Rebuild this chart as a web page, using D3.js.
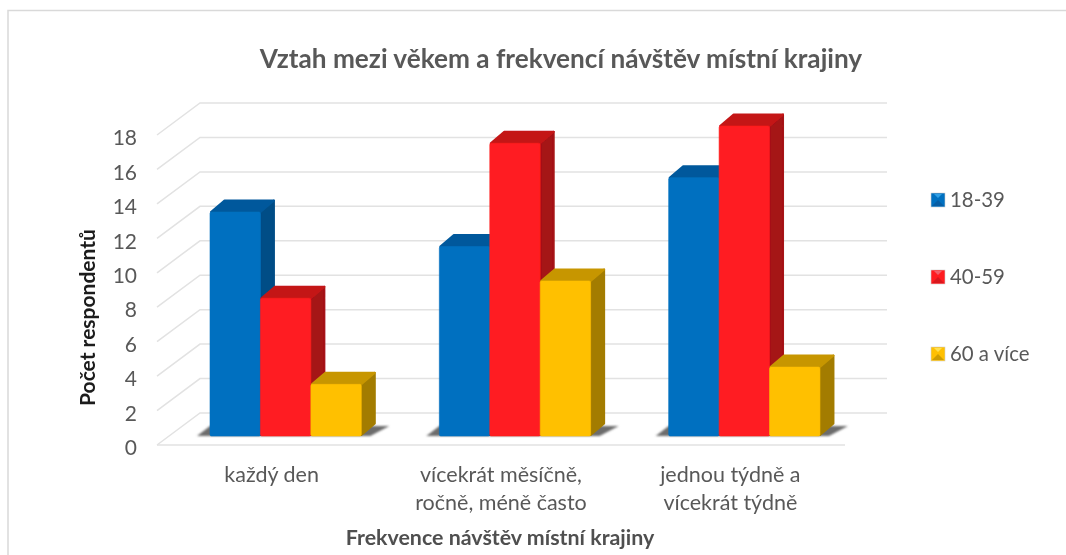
<!DOCTYPE html>
<html>
  <head>
    <meta charset="UTF-8">
    <title>Vztah mezi věkem a frekvencí návštěv místní krajiny</title>
    <style>
      html, body { margin: 0; padding: 0; background: #fff; }
      svg { display: block; }
      text { font-family: Lato, "Open Sans", sans-serif; fill: #595959; }
    </style>
  </head>
  <body>
    <svg></svg>

    <script src="https://d3js.org/d3.v7.min.js"></script>
    <script>

var categories = [["každý den"], ["vícekrát měsíčně,", "ročně, méně často"], ["jednou týdně a", "vícekrát týdně"]];
var seriesNames = ["18-39", "40-59", "60 a více"];
var values1839 = [13, 11, 15];
var values4059 = [8, 17, 18];
var values60 = [3, 9, 4];
var yTicks = [0, 2, 4, 6, 8, 10, 12, 14, 16, 18];

var colors = [
  {front: "#0070c0", top: "#00599c", side: "#004d86", light: "#2f9fe6", dark: "#0d4f8c"},
  {front: "#ff1c20", top: "#c41418", side: "#a51214", light: "#f0606a", dark: "#b8141c"},
  {front: "#ffc000", top: "#c79600", side: "#a37c00", light: "#ffe050", dark: "#a88000"}
];

var config = {
  width: 1066,
  height: 555,
  left: 157,
  right: 845,
  backDx: 43,
  backDy: -32,
  depthX: 14.5,
  depthY: -12.5
};

var svg = d3.select("svg")
  .attr("width", config.width)
  .attr("height", config.height);

var defs = svg.append("defs");
defs.append("filter").attr("id", "soft")
  .append("feGaussianBlur").attr("stdDeviation", 0.45);
defs.append("filter").attr("id", "textsoft")
  .append("feGaussianBlur").attr("stdDeviation", 0.25);
defs.append("filter").attr("id", "shadow")
  .attr("x", "-10%").attr("y", "-50%").attr("width", "120%").attr("height", "200%")
  .append("feGaussianBlur").attr("stdDeviation", 1.2);

// outer frame of the chart, open on the right
svg.append("path")
  .attr("d", "M8,555V10.5H1066")
  .attr("fill", "none")
  .attr("stroke", "#d9d9d9")
  .attr("stroke-width", 1.5);

// scales: front plane of the floor for the axis, bar plane slightly behind it
var yAxisScale = d3.scaleLinear().domain([0, 18]).range([445, 135]);
var yBar = d3.scaleLinear().domain([0, 18]).range([436, 126]);
var xGroup = d3.scaleBand().domain(d3.range(categories.length)).range([config.left, config.right]);
var xBar = d3.scaleBand().domain(d3.range(seriesNames.length)).range([53, 204.3]);

// gridlines on the left wall and the back wall
var grid = svg.append("g")
  .attr("fill", "none")
  .attr("stroke", "#e2e2e2")
  .attr("stroke-width", 1.5)
  .attr("filter", "url(#soft)");

grid.selectAll("path")
  .data(yTicks)
  .enter().append("path")
    .attr("d", function(d){
      var y = yAxisScale(d);
      return "M" + config.left + "," + y +
        "L" + (config.left + config.backDx) + "," + (y + config.backDy) +
        "H887";
    });

// front edge of the floor
grid.append("path")
  .attr("d", "M" + config.left + "," + yAxisScale(0) + "H" + config.right);

// bars
var seriesValues = [values1839, values4059, values60];

var groups = svg.selectAll(".group")
  .data(categories)
  .enter().append("g")
    .attr("class", "group")
    .attr("transform", function(d, i){ return "translate(" + xGroup(i) + ",0)"; });

// floor shadow under each group
groups.append("path")
  .attr("d", function(){
    var x0 = xBar(0) - 13, x1 = xBar(2) + xBar.bandwidth();
    var y0 = yBar(0);
    return "M" + x0 + "," + y0 + "L" + (x0 + 13) + "," + (y0 - 10) +
      "H" + (x1 + 28) + "L" + (x1 + 9) + "," + y0 + "Z";
  })
  .attr("fill", "#6c6c6c")
  .attr("filter", "url(#shadow)");

groups.each(function(d, gi){
  var g = d3.select(this);
  seriesNames.forEach(function(name, si){
    var value = seriesValues[si][gi];
    var c = colors[si];
    var x0 = xBar(si), x1 = x0 + xBar.bandwidth();
    var yt = yBar(value), yb = yBar(0);
    var dx = config.depthX, dy = config.depthY;
    var bar = g.append("g")
      .attr("stroke-linejoin", "round")
      .attr("stroke-width", 2)
      .attr("filter", "url(#soft)");
    bar.append("path")
      .attr("d", "M" + x1 + "," + yt + "L" + (x1 + dx - 1) + "," + (yt + dy + 1) +
        "V" + (yb + dy) + "L" + x1 + "," + (yb - 1) + "Z")
      .attr("fill", c.side).attr("stroke", c.side);
    bar.append("path")
      .attr("d", "M" + (x0 + 1) + "," + yt + "L" + (x0 + dx) + "," + (yt + dy + 1) +
        "H" + (x1 + dx - 1) + "L" + x1 + "," + yt + "Z")
      .attr("fill", c.top).attr("stroke", c.top);
    bar.append("rect")
      .attr("x", x0).attr("y", yt)
      .attr("width", xBar.bandwidth()).attr("height", yb - yt)
      .attr("rx", 1.5)
      .attr("fill", c.front).attr("stroke", c.front).attr("stroke-width", 0.6);
  });
});

// all text goes in one group
var labels = svg.append("g").attr("filter", "url(#textsoft)");

// y axis
var yAxis = labels.append("g")
  .attr("transform", "translate(143,3)")
  .call(d3.axisLeft(yAxisScale).tickValues(yTicks).tickSize(0).tickPadding(6));
yAxis.select(".domain").remove();
yAxis.selectAll("text")
  .style("font-family", 'Lato, "Open Sans", sans-serif')
  .style("font-size", "21px")
  .style("fill", "#595959");

// category labels
var catLabels = labels.selectAll(".cat")
  .data(categories)
  .enter().append("text")
    .attr("class", "cat")
    .attr("text-anchor", "middle")
    .attr("font-size", "21.5px");

catLabels.selectAll("tspan")
  .data(function(d, i){
    return d.map(function(line){ return {line: line, i: i}; });
  })
  .enter().append("tspan")
    .attr("x", function(d){ return xGroup(d.i) + xGroup.bandwidth() / 2; })
    .attr("y", function(d, j){ return 482 + j * 28; })
    .text(function(d){ return d.line; });

// titles
labels.append("text")
  .attr("x", 561).attr("y", 68)
  .attr("text-anchor", "middle")
  .attr("font-size", "26.2px")
  .attr("font-weight", 700)
  .text("Vztah mezi věkem a frekvencí návštěv místní krajiny");

labels.append("text")
  .attr("x", 500).attr("y", 545)
  .attr("text-anchor", "middle")
  .attr("font-size", "21.4px")
  .attr("font-weight", 700)
  .style("fill", "#505050")
  .text("Frekvence návštěv místní krajiny");

labels.append("text")
  .attr("transform", "translate(95,317.5) rotate(-90)")
  .attr("text-anchor", "middle")
  .attr("font-size", "21px")
  .attr("font-weight", 700)
  .style("fill", "#1a1a1a")
  .text("Počet respondentů");

// legend
var legendY = d3.scalePoint().domain(seriesNames).range([200, 354]);

var legend = svg.selectAll(".legend")
  .data(seriesNames)
  .enter().append("g")
    .attr("class", "legend")
    .attr("transform", function(d){ return "translate(931," + legendY(d) + ")"; });

legend.append("rect")
  .attr("x", 0).attr("y", -7).attr("width", 14).attr("height", 14)
  .attr("fill", function(d, i){ return colors[i].front; })
  .attr("stroke", "#d0d0d0").attr("stroke-width", 0.6);

legend.append("path")
  .attr("d", "M3,-6H11L7,-2Z")
  .attr("fill", function(d, i){ return colors[i].light; });

legend.append("path")
  .attr("d", "M1,6H13L7,0Z")
  .attr("fill", function(d, i){ return colors[i].dark; })
  .attr("opacity", 0.55);

legend.append("text")
  .attr("x", 19).attr("y", 7)
  .attr("font-size", "20.4px")
  .attr("filter", "url(#textsoft)")
  .text(function(d){ return d; });

    </script>
  </body>
</html>
